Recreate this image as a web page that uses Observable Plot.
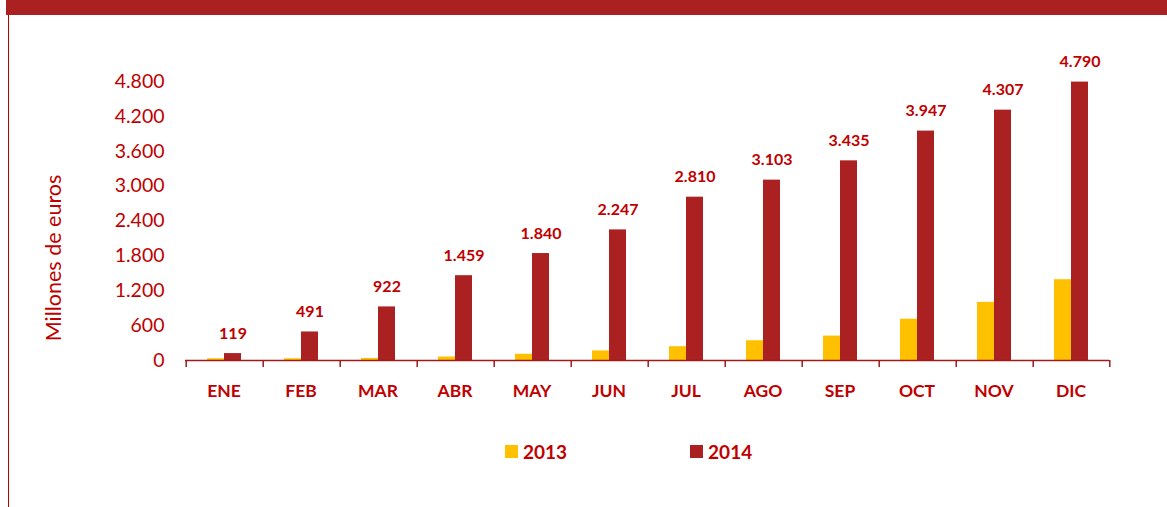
<!DOCTYPE html>
<html>
<head>
<meta charset="utf-8">
<script src="https://cdn.jsdelivr.net/npm/d3@7"></script>
<script src="https://cdn.jsdelivr.net/npm/@observablehq/plot@0.6"></script>
<style>
  html, body { margin: 0; padding: 0; background: #fff; }
  #wrap { position: relative; width: 1167px; height: 507px; overflow: hidden; font-family: Lato, "Open Sans", sans-serif; }
  #band { position: absolute; left: 6px; right: 0; top: 0; height: 15px; background: #AB2121; }
  #vline { position: absolute; left: 8px; top: 15px; bottom: 0; width: 1px; background: #C00000; }
  #chart { position: absolute; left: 0; top: 0; }
  #legend { position: absolute; left: 505px; top: 440px; }
  .lg-swatches { font-family: Lato, sans-serif !important; font-size: 19px !important; font-weight: bold !important; color: #C00000 !important; min-height: 0 !important; margin: 0 !important; }
  .lg-swatch { margin-right: 123px !important; }
  .lg-swatch > svg { margin-right: 5px !important; }
</style>
</head>
<body>
<div id="wrap">
  <div id="band"></div>
  <div id="vline"></div>
  <div id="chart"></div>
  <div id="legend"></div>
</div>
<script>
const months = ["ENE","FEB","MAR","ABR","MAY","JUN","JUL","AGO","SEP","OCT","NOV","DIC"];
const years = ["2013","2014"];
const values2013 = [30, 30, 35, 60, 107, 165, 238, 340, 420, 710, 1000, 1390];
const values2014 = [119, 491, 922, 1459, 1840, 2247, 2810, 3103, 3435, 3947, 4307, 4790];
const yTicks = [0, 600, 1200, 1800, 2400, 3000, 3600, 4200, 4800];
const yTitle = "Millones de euros";
const colors = ["#FFC000", "#AB2121"];

const data = months.flatMap((m, i) => [
  {month: m, year: "2013", value: values2013[i]},
  {month: m, year: "2014", value: values2014[i]}
]);
const data2014 = data.filter(d => d.year === "2014");

const W = 1167, H = 420, ML = 181, MR = 55, MT = 81, MB = 60;
const PO = 1.155;
const fw = (W - ML - MR) / months.length;          // facet width
const step = fw / (years.length + 2 * PO);          // bar band width
const red = "#C00000";
const axisRed = "#9E1B1B";
const fmt = d => d3.format(",")(d).replace(/,/g, ".");

const chart = Plot.plot({
  width: W, height: H,
  marginLeft: ML, marginRight: MR, marginTop: MT, marginBottom: MB,
  style: {fontFamily: "Lato, 'Open Sans', sans-serif", background: "transparent", overflow: "visible"},
  fx: {domain: months, padding: 0, label: null},
  x: {domain: years, paddingInner: 0, paddingOuter: PO, axis: null},
  y: {domain: [0, 4800], label: null},
  color: {domain: years, range: colors},
  marks: [
    Plot.axisY({ticks: yTicks, tickSize: 0, tickPadding: 21, tickFormat: fmt, fontSize: 19.5, fill: red, label: null}),
    Plot.axisFx({anchor: "bottom", tickSize: 0, tickPadding: 24, fontSize: 17.5, fontWeight: "bold", fill: red, label: null}),
    Plot.barY(data, {fx: "month", x: "year", y: "value", fill: "year"}),
    Plot.ruleY([0], {stroke: axisRed, strokeWidth: 1.5}),
    // category boundary ticks (left edge of each month, and right edge of the last)
    Plot.ruleX(months, {fx: d => d, x: () => "2013", y1: () => 0, y2: () => 0, insetBottom: -7,
      dx: -(PO + 0.5) * step, stroke: axisRed, strokeWidth: 1.5}),
    Plot.ruleX(months.slice(-1), {fx: d => d, x: () => "2014", y1: () => 0, y2: () => 0, insetBottom: -7,
      dx: (PO + 0.5) * step, stroke: axisRed, strokeWidth: 1.5}),
    Plot.text(data2014, {fx: "month", x: "year", y: "value", text: d => fmt(d.value), dy: -20, fontSize: 16, fontWeight: "bold", fill: red}),
    Plot.text([yTitle], {facet: "super", frameAnchor: "left", textAnchor: "middle", text: d => d, rotate: -90, dx: -131, dy: 37, fontSize: 21.5, fill: red})
  ]
});
document.getElementById("chart").appendChild(chart);

const legend = Plot.legend({
  color: {domain: years, range: colors},
  swatchSize: 13,
  className: "lg"
});
document.getElementById("legend").appendChild(legend);
</script>
</body>
</html>
